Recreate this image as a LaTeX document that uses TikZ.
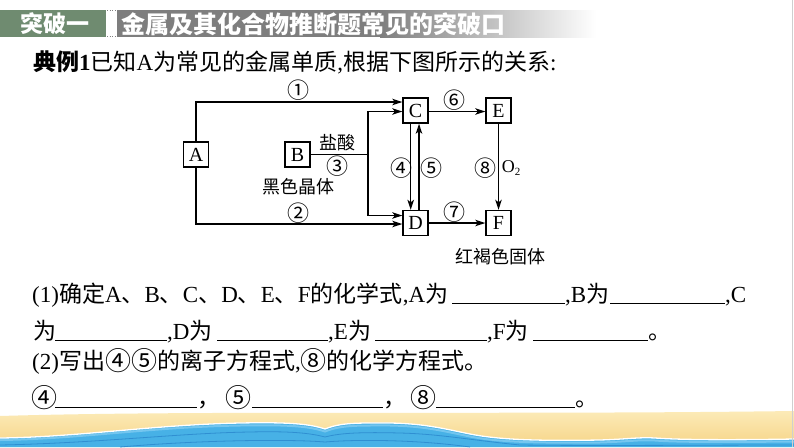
\documentclass[tikz,border=0pt]{standalone}
\usepackage{fontspec}
\setmainfont{Liberation Serif}
\newfontfamily\cjk{Noto Sans CJK SC}
\usetikzlibrary{arrows.meta}
\newcommand\zh[1]{{\cjk #1}}
\newcommand\bigc[1]{{\cjk\fontsize{26}{26}\selectfont\raisebox{-1.3pt}{#1}}}
\definecolor{hdrgreen}{HTML}{6F8B70}
\definecolor{hdrgray}{HTML}{7E7E7E}
\definecolor{sandtop}{HTML}{FCEBB9}
\definecolor{sandbot}{HTML}{F6D486}
\definecolor{seablue}{HTML}{47B1E6}
\definecolor{seadark}{HTML}{2F8FD2}
\definecolor{sealight}{HTML}{74C6EF}
\definecolor{edgegray}{HTML}{CFCFCF}
\tikzset{
  box/.style={draw, line width=1.4pt, minimum width=25pt, minimum height=25pt, inner sep=0pt, font=\fontsize{20}{20}\selectfont},
  conn/.style={line width=1.4pt},
  arr/.style={conn, -{Stealth[length=10pt,width=6.5pt,inset=2.5pt]}},
  lbl/.style={inner sep=0pt, font=\cjk\fontsize{18}{18}\selectfont},
  circ/.style={inner sep=0pt, font=\cjk\fontsize{22}{22}\selectfont},
  txt/.style={anchor=base west, inner sep=0pt, font=\fontsize{23}{26}\selectfont},
  blank/.style={line width=1pt},
}
\begin{document}
\begin{tikzpicture}[x=1pt,y=-1pt]
\useasboundingbox (0,0) rectangle (794,447);
\fill[white] (0,0) rectangle (794,447);
% header
\fill[hdrgreen] (0,10) rectangle (106,37);
\fill[hdrgray] (117,10) rectangle (380,37);
\shade[left color=hdrgray, right color=white, shading angle=90] (380,10) rectangle (596,37);
\draw[gray, dotted, line width=0.6pt] (107,10.5) -- (116,10.5) (107,36.5) -- (116,36.5);
\node[inner sep=0pt, text=white, font=\cjk\bfseries\fontsize{23}{23}\selectfont] (h1) at (55,24) {突破一};
\node[anchor=west, inner sep=0pt, text=white, font=\cjk\bfseries\fontsize{24}{24}\selectfont] (h2) at (121,24) {金属及其化合物推断题常见的突破口};
% intro line
\node[txt] (intro) at (33,70) {\zh{\bfseries 典例}\textbf{1}\zh{已知}A\zh{为常见的金属单质},\zh{根据下图所示的关系}:};
% diagram boxes
\node[box] (A) at (196,154.5) {A};
\node[box] (B) at (297.5,154.5) {B};
\node[box] (C) at (415.5,110.5) {C};
\node[box] (E) at (498.5,110.5) {E};
\node[box] (D) at (415.5,223) {D};
\node[box] (F) at (498.5,223) {F};
\coordinate (J) at (368,154.5);
% connectors
\draw[arr] (A.north) |- ([yshift=8.5pt]C.west);
\draw[arr] (A.south) |- ([yshift=-1pt]D.west);
\draw[conn] (B.east) -- (J);
\draw[arr] (J) |- ([yshift=-1pt]C.west);
\draw[arr] (J) |- ([yshift=7.5pt]D.west);
\draw[arr] ([xshift=-4.8pt]C.south) -- ([xshift=-4.8pt]D.north);
\draw[arr] ([xshift=3.5pt]D.north) -- ([xshift=3.5pt]C.south);
\draw[arr] ([yshift=-1pt]C.east) -- ([yshift=-1pt]E.west);
\draw[arr] (D.east) -- (F.west);
\draw[arr] (E.south) -- (F.north);
% labels
\node[circ] (l1) at (298,90) {①};
\node[circ] (l2) at (298,213) {②};
\node[lbl] (hcl) at (337,143) {盐酸};
\node[circ] (l3) at (337,166) {③};
\node[lbl] (bk) at (298,187) {黑色晶体};
\node[circ] (l4) at (401,168) {④};
\node[circ] (l5) at (431,168) {⑤};
\node[circ] (l6) at (454,100) {⑥};
\node[circ] (l7) at (454,212) {⑦};
\node[circ] (l8) at (485,168) {⑧};
\node[inner sep=0pt, font=\fontsize{18}{18}\selectfont] (o2) at (511,168) {O\raisebox{-3pt}{\fontsize{11}{11}\selectfont 2}};
\node[lbl] (rb) at (500,257) {红褐色固体};
% question line 1
\node[txt] (q1a) at (32,302) {(1)\zh{确定}A\zh{、}B\zh{、}C\zh{、}D\zh{、}E\zh{、}F\zh{的化学式},A\zh{为}};
\draw[blank] (452,303) -- (565,303);
\node[txt] (q1b) at (565,302) {,B\zh{为}};
\draw[blank] (610,303) -- (725,303);
\node[txt] (q1c) at (725,302) {,C};
% question line 2
\node[txt] (q2a) at (33,339) {\zh{为}};
\draw[blank] (55,340) -- (167,340);
\node[txt] (q2b) at (167,339) {,D\zh{为}};
\draw[blank] (217,340) -- (328,340);
\node[txt] (q2c) at (328,339) {,E\zh{为}};
\draw[blank] (375,340) -- (487,340);
\node[txt] (q2d) at (487,339) {,F\zh{为}};
\draw[blank] (533,340) -- (648,340);
\node[txt] (q2e) at (648,339) {\zh{。}};
% question line 3
\node[txt] (q3) at (32,369) {(2)\zh{写出}\bigc{④}\bigc{⑤}\zh{的离子方程式},\bigc{⑧}\zh{的化学方程式。}};
% question line 4
\node[txt] (q4a) at (31,406) {\bigc{④}};
\draw[blank] (55,407) -- (197,407);
\node[txt] (q4b) at (197,406) {\zh{，}};
\node[txt] (q4c) at (225,406) {\bigc{⑤}};
\draw[blank] (252,407) -- (383,407);
\node[txt] (q4d) at (383,406) {\zh{，}};
\node[txt] (q4e) at (410,406) {\bigc{⑧}};
\draw[blank] (436,407) -- (575,407);
\node[txt] (q4f) at (575,406) {\zh{。}};
% bottom beach
\shade[top color=sandtop, bottom color=sandbot] (0,416) .. controls (200,410) and (500,415) .. (794,411) -- (794,447) -- (0,447) -- cycle;
\fill[seablue] (0,438) .. controls (80,437) and (150,425) .. (240,423) .. controls (290,422) and (310,424) .. (325,429) .. controls (335,425) and (345,423) .. (370,423) .. controls (420,422) and (440,428) .. (470,434) .. controls (500,440) and (540,441) .. (600,440) .. controls (630,439) and (640,437) .. (655,438) .. controls (680,440) and (740,440) .. (794,439) -- (794,447) -- (0,447) -- cycle;
\draw[sealight, line width=2pt] (0,440) .. controls (80,439) and (150,427) .. (240,425.5) .. controls (290,424.5) and (310,426.5) .. (325,431.5) .. controls (335,427.5) and (345,425.5) .. (370,425.5) .. controls (420,424.5) and (440,430.5) .. (470,436.5) .. controls (500,442.5) and (540,443) .. (600,442.5) .. controls (630,441.5) and (640,439.5) .. (655,440.5) .. controls (680,442.5) and (740,442) .. (794,441.5);
\draw[white, line width=1.3pt] (0,438) .. controls (80,437) and (150,425) .. (240,423) .. controls (290,422) and (310,424) .. (325,429) .. controls (335,425) and (345,423) .. (370,423) .. controls (420,422) and (440,428) .. (470,434) .. controls (500,440) and (540,441) .. (600,440) .. controls (630,439) and (640,437) .. (655,438) .. controls (680,440) and (740,440) .. (794,439);
\draw[seadark, line width=0.8pt] (0,445) .. controls (100,443) and (180,433) .. (250,432) .. controls (290,431) and (310,433) .. (325,437) .. controls (340,433) and (360,432) .. (400,433) .. controls (440,434) and (470,440) .. (520,445) .. controls (600,446) and (700,445) .. (794,445);
\draw[seadark, line width=0.8pt] (120,447) .. controls (200,440) and (290,439) .. (325,442) .. controls (360,439) and (420,440) .. (470,447);
% right edge
\draw[edgegray, line width=1.5pt] (792.5,0) -- (792.5,447);
\end{tikzpicture}
\end{document}
